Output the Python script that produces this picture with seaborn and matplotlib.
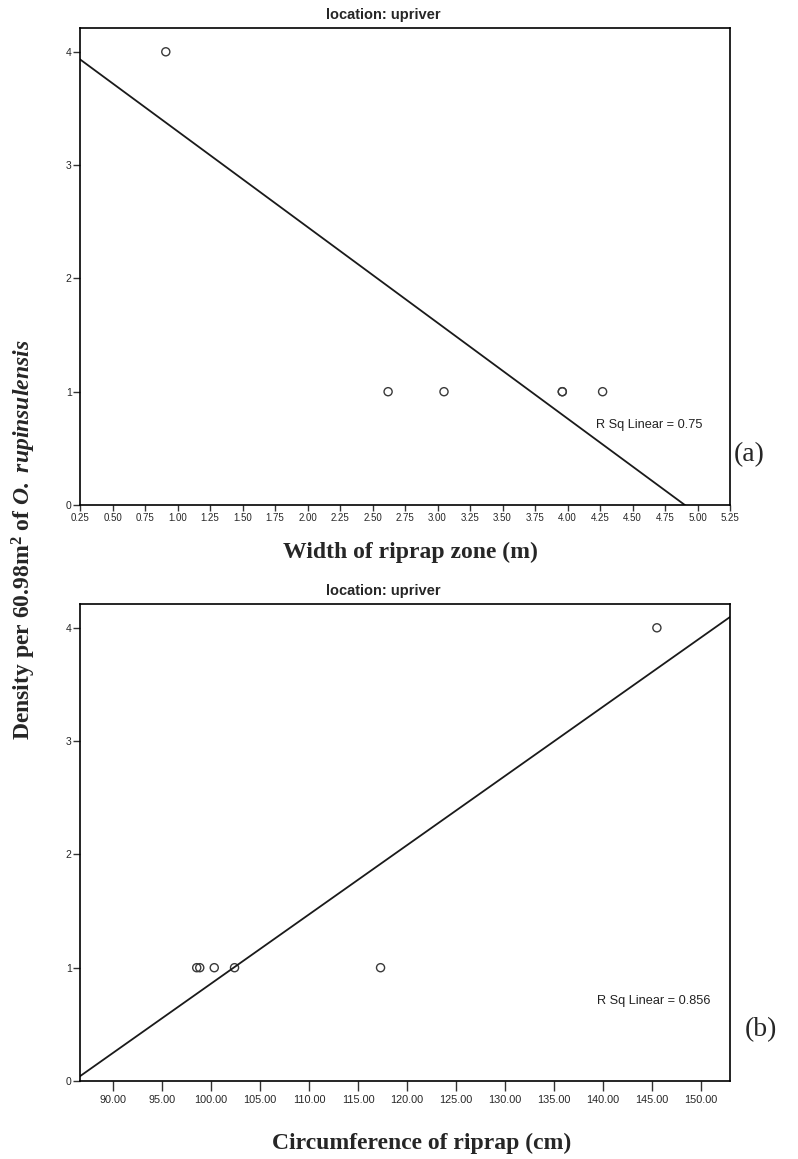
import matplotlib
matplotlib.use("Agg")
import matplotlib.pyplot as plt
import seaborn as sns
import pandas as pd
import numpy as np

# panel (a): width of riprap zone vs density
width_m = [0.91, 2.62, 3.05, 3.96, 3.96, 4.27]
density_a = [4, 1, 1, 1, 1, 1]
# panel (b): circumference of riprap vs density
circ_cm = [98.54, 98.85, 100.33, 102.40, 117.30, 145.50]
density_b = [1, 1, 1, 1, 1, 4]

xticks_a = np.arange(0.25, 5.26, 0.25)
xticks_b = np.arange(90, 151, 5)
yticks = [0, 1, 2, 3, 4]

sns.set_style("white")
plt.rcParams["font.family"] = ["Liberation Sans", "DejaVu Sans"]
plt.rcParams["mathtext.fontset"] = "custom"
plt.rcParams["mathtext.rm"] = "Liberation Serif:bold"
plt.rcParams["mathtext.it"] = "Liberation Serif:italic:bold"
plt.rcParams["mathtext.bf"] = "Liberation Serif:bold"
plt.rcParams["mathtext.bfit"] = "Liberation Serif:italic:bold"

W, H = 798, 1159
fig = plt.figure(figsize=(W / 100, H / 100), dpi=100)


def px_axes(left, top, right, bottom):
    return fig.add_axes([left / W, 1 - bottom / H, (right - left) / W, (bottom - top) / H])


def draw_panel(ax, df, xcol, xlim, xticks, tick_size, r2_text, r2_pos, tick_len, tick_pad):
    ax.set_xlim(*xlim)
    ax.set_ylim(0, 4.21)
    sns.regplot(data=df, x=xcol, y="density", ax=ax, ci=None, truncate=False,
                marker="o",
                scatter_kws={"s": 34, "facecolors": "none", "edgecolors": "#3a3a3a",
                             "linewidths": 1.0, "alpha": 1},
                line_kws={"color": "#1a1a1a", "lw": 1.3})
    ax.set_xlim(*xlim)
    ax.set_ylim(0, 4.21)
    ax.set_xticks(xticks)
    ax.set_xticklabels(["%.2f" % t for t in xticks])
    ax.set_yticks(yticks)
    ax.set_xlabel("")
    ax.set_ylabel("")
    for s in ax.spines.values():
        s.set_visible(True)
        s.set_color("black")
        s.set_linewidth(1.2)
    ax.tick_params(axis="x", direction="out", length=tick_len, width=1, pad=tick_pad,
                   labelsize=tick_size, bottom=True, color="#333333")
    ax.tick_params(axis="y", direction="out", length=5, width=1, pad=1,
                   labelsize=7.5, left=True, color="#333333")
    ax.text((383 - 80) / 650, 1.012, "location: upriver", transform=ax.transAxes,
            ha="center", va="bottom", fontsize=10.5, fontweight="bold")
    ax.text(r2_pos[0], r2_pos[1], r2_text, ha="left", va="center", fontsize=9.2,
            color="#222222")


df_a = pd.DataFrame({"width": width_m, "density": density_a})
df_b = pd.DataFrame({"circ": circ_cm, "density": density_b})

ax1 = px_axes(80, 28, 730, 505)
draw_panel(ax1, df_a, "width", (0.25, 5.25), xticks_a, 7, "R Sq Linear = 0.75",
           (4.22, 0.71), 4, 1.5)

ax2 = px_axes(80, 604, 730, 1081)
draw_panel(ax2, df_b, "circ", (86.63, 152.96), xticks_b, 7.8, "R Sq Linear = 0.856",
           (139.35, 0.71), 7, 3)

serif = ["Liberation Serif", "DejaVu Serif"]
fig.text(410 / W, 1 - 552 / H, "Width of riprap zone (m)", ha="center", va="center",
         fontsize=17, fontweight="bold", family=serif)
fig.text(422 / W, 1 - 1143 / H, "Circumference of riprap (cm)", ha="center", va="center",
         fontsize=17, fontweight="bold", family=serif)
fig.text(24 / W, 1 - 540 / H,
         r"Density per 60.98m$^{2}$ of $\mathbfit{O.}$ $\mathbfit{rupinsulensis}$",
         rotation=90, ha="center", va="center", fontsize=17, fontweight="bold", family=serif)
fig.text(734 / W, 1 - 455 / H, "(a)", ha="left", va="center", fontsize=20, family=serif)
fig.text(745 / W, 1 - 1030 / H, "(b)", ha="left", va="center", fontsize=20, family=serif)

fig.savefig("out.png", dpi=100, facecolor="white")
